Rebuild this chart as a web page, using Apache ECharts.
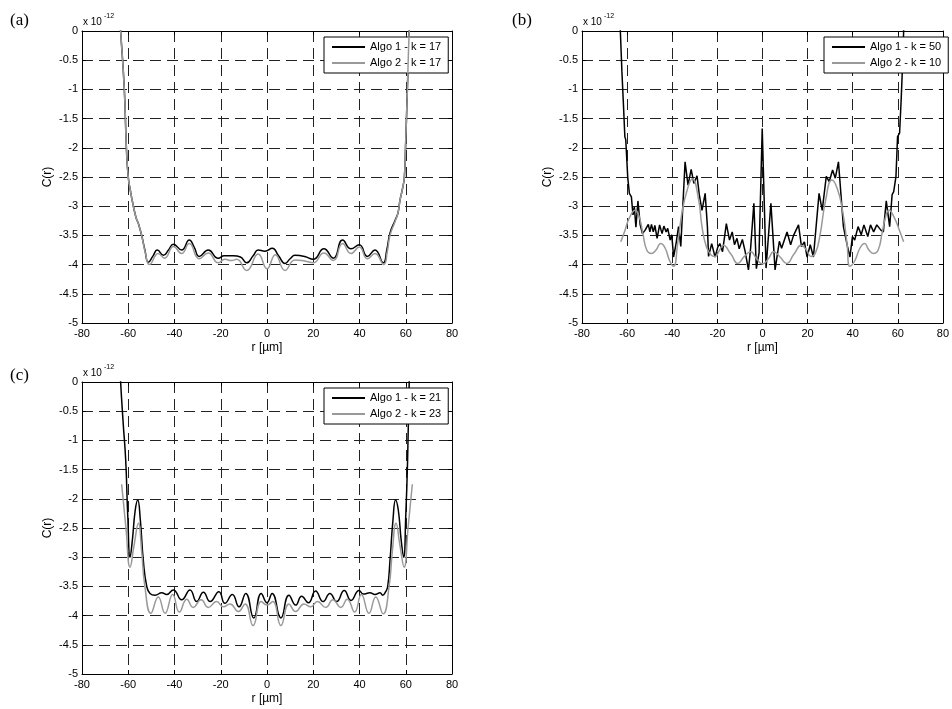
<!DOCTYPE html>
<html>
<head>
<meta charset="utf-8">
<script src="https://cdn.jsdelivr.net/npm/echarts@6/dist/echarts.min.js"></script>
<style>
html,body{margin:0;padding:0;background:#fff;}
#chart{width:952px;height:709px;}
</style>
</head>
<body>
<div id="chart"></div>
<script>
// ---------- DATA ----------
// axis ticks
const xTicks = {min: -80, max: 80, interval: 20};
const yTicks = {min: -5, max: 0, interval: 0.5};
const panelLabels = ['(a)', '(b)', '(c)'];
const seriesNames = [
  ['Algo 1 - k = 17', 'Algo 2 - k = 17'],
  ['Algo 1 - k = 50', 'Algo 2 - k = 10'],
  ['Algo 1 - k = 21', 'Algo 2 - k = 23']
];

// Panel (a) – Algo 1, k = 17 (r in µm, C in 1e-12)
const aAlgo1R = [-63.8,-63.3,-61.7,-60.8,-60.0,-59.0,-58.2,-56.6,-55.6,-54.2,-52.8,-51.3,-49.4,-47.4,-44.8,-42.6,-40.5,-36.9,-33.6,-31.5,-29.3,-25.4,-21.1,-18.5,-14.6,-11.5,-8.8,-6.0,-3.8,-0.9,2.3,5.0,7.8,10.0,12.1,16.3,20.0,24.6,28.7,32.7,36.3,39.9,43.4,46.7,50.3,51.8,53.2,55.4,56.6,57.5,58.6,59.4,59.9,60.7,61.5,62.0];
const aAlgo1C = [0.3,0,-1,-2,-2.5,-2.75,-2.92,-3.2,-3.3,-3.5,-3.75,-3.96,-3.86,-3.75,-3.84,-3.75,-3.65,-3.75,-3.58,-3.7,-3.86,-3.75,-3.89,-3.85,-3.85,-3.87,-3.97,-3.85,-3.75,-3.77,-3.72,-3.85,-3.98,-3.9,-3.84,-3.86,-3.91,-3.73,-3.89,-3.58,-3.73,-3.66,-3.86,-3.75,-3.97,-3.75,-3.46,-3.24,-3.12,-2.9,-2.7,-2.5,-2.0,-1.0,0,0.3];
// Panel (a) – Algo 2, k = 17
const aAlgo2R = [-63.8,-63.3,-61.7,-60.8,-60.0,-59.0,-58.2,-56.6,-55.6,-54.2,-52.6,-50.8,-47.0,-44.3,-40.4,-36.9,-33.6,-29.3,-25.4,-21.1,-18.2,-15.3,-13.1,-8.8,-3.8,0,3.6,7.8,12.1,16.4,20.0,24.6,28.7,32.7,36.3,39.9,43.4,46.7,50.5,52.0,53.2,55.4,56.6,57.5,58.6,59.4,59.9,60.7,61.5,62.0];
const aAlgo2C = [0.3,0,-1,-2,-2.5,-2.75,-2.92,-3.2,-3.3,-3.5,-3.8,-4.0,-3.81,-3.89,-3.69,-3.81,-3.64,-3.9,-3.8,-3.97,-3.91,-3.93,-3.91,-4.1,-3.82,-4.07,-3.83,-4.1,-3.92,-3.94,-3.97,-3.8,-3.93,-3.64,-3.81,-3.7,-3.9,-3.81,-4.0,-3.78,-3.5,-3.26,-3.12,-2.9,-2.7,-2.5,-2.0,-1.0,0,0.3];

// Panel (b) – Algo 1, k = 50
const bAlgo1R = [-63.3,-63.0,-62.3,-61.7,-61.0,-60.6,-60.2,-59.7,-59.0,-58.1,-57.4,-56.8,-56.1,-55.2,-54.2,-53.2,-52.0,-51.3,-50.6,-49.9,-49.2,-48.4,-47.7,-46.7,-45.6,-44.5,-43.7,-42.7,-42.0,-40.9,-40.2,-39.4,-38.3,-37.2,-36.2,-34.3,-33.0,-31.6,-30.4,-29.0,-28.0,-26.8,-25.4,-24.4,-23.9,-22.5,-21.0,-19.8,-18.9,-17.7,-16.0,-14.6,-13.4,-12.4,-11.3,-10.3,-8.9,-7.7,-6.2,-5.2,-3.8,-2.7,-1.5,-0.1,1.6,3.75,5.6,7.5,8.5,10.9,12.5,13.8,16.0,17.3,18.6,19.8,21.2,22.6,25.1,26.5,28.3,29.6,31.1,32.3,33.7,35.9,37.7,38.8,39.9,40.9,42.4,43.8,45.0,46.7,47.9,49.3,50.7,52.5,53.6,54.9,56.4,57.5,58.2,59.2,59.9,60.8,61.5,62.2,62.6,62.9];
const bAlgo1C = [0.3,0,-0.7,-1.2,-1.81,-1.86,-1.85,-2.52,-2.78,-2.84,-3.15,-3.01,-3.36,-2.91,-3.32,-3.47,-3.41,-3.44,-3.31,-3.44,-3.31,-3.44,-3.33,-3.55,-3.32,-3.47,-3.34,-3.44,-3.38,-3.58,-3.49,-3.87,-3.64,-3.35,-3.69,-2.24,-2.64,-2.37,-2.61,-2.48,-2.8,-3.07,-2.78,-3.35,-3.86,-3.64,-3.87,-3.7,-3.64,-3.78,-3.30,-3.58,-3.44,-3.66,-3.55,-3.73,-3.57,-3.77,-4.09,-3.7,-2.95,-4.07,-3.8,-1.67,-4.06,-2.95,-4.09,-3.6,-3.72,-3.44,-3.66,-3.5,-3.32,-3.69,-3.61,-3.87,-3.66,-3.87,-2.78,-3.07,-2.49,-2.58,-2.38,-2.52,-2.24,-3.35,-3.69,-3.87,-3.52,-3.58,-3.35,-3.49,-3.32,-3.52,-3.32,-3.44,-3.32,-3.41,-3.44,-2.91,-3.35,-2.8,-2.75,-2.49,-1.81,-1.75,-1.18,-0.5,0,0.3];
// Panel (b) – Algo 2, k = 10
const bAlgo2R = [-62.8,-61.0,-59.0,-56.4,-54.5,-53.0,-51.3,-49.2,-47.2,-45.1,-43.1,-41.2,-39.4,-37.6,-35.5,-33.2,-31.1,-28.3,-26.8,-24.9,-22.9,-21.0,-19.0,-17.4,-14.0,-10.9,-8.0,-5.2,-2.6,0,2.6,5.0,7.8,10.7,14.0,17.2,19.5,21.5,23.5,25.5,28.0,30.8,33.2,35.5,37.5,38.8,41.0,43.2,45.3,47.2,49.2,51.3,53.0,54.5,56.1,58.5,60.8,62.6];
const bAlgo2C = [-3.61,-3.42,-3.2,-3.07,-3.2,-3.47,-3.75,-3.81,-3.75,-3.64,-3.72,-3.93,-4.03,-3.64,-3.07,-2.7,-2.53,-2.89,-3.35,-3.69,-3.83,-3.86,-3.75,-3.67,-3.82,-3.98,-3.86,-3.78,-3.9,-3.99,-3.9,-3.78,-3.87,-3.98,-3.82,-3.67,-3.75,-3.86,-3.8,-3.5,-2.9,-2.55,-2.7,-3.07,-3.64,-4.03,-3.93,-3.72,-3.64,-3.75,-3.81,-3.75,-3.47,-3.2,-3.07,-3.2,-3.42,-3.61];

// Panel (c) – Algo 1, k = 21
const cAlgo1R = [-63.6,-63.3,-62.2,-61.1,-60.2,-59.2,-58.2,-57.0,-55.9,-54.8,-53.5,-52.0,-50.6,-48.4,-45.5,-43.4,-40.5,-36.9,-33.3,-30.4,-27.5,-24.6,-20.8,-18.2,-15.0,-12.1,-9.2,-5.7,-2.5,0,2.2,6.0,9.5,12.4,15.0,17.9,21.0,24.3,27.2,30.1,33.4,36.3,39.8,41.7,44.5,46.7,48.9,50.0,51.2,52.2,53.2,54.5,55.6,56.8,58.0,59.1,60.0,60.8,61.5,61.9];
const cAlgo1C = [0.3,0,-0.7,-1.34,-2.3,-3.0,-2.7,-2.2,-2.02,-2.35,-3.05,-3.5,-3.62,-3.65,-3.61,-3.64,-3.56,-3.73,-3.56,-3.76,-3.6,-3.76,-3.59,-3.79,-3.64,-3.85,-3.62,-4.04,-3.62,-3.78,-3.62,-4.04,-3.65,-3.82,-3.67,-3.78,-3.58,-3.76,-3.62,-3.76,-3.57,-3.74,-3.57,-3.63,-3.61,-3.64,-3.61,-3.65,-3.6,-3.5,-3.05,-2.35,-2.02,-2.2,-2.7,-3.0,-2.3,-1.34,0,0.3];
// Panel (c) – Algo 2, k = 23
const cAlgo2R = [-62.85,-61.0,-59.2,-57.5,-55.6,-54.2,-52.8,-50.2,-47.0,-44.1,-40.8,-37.9,-34.7,-31.9,-28.5,-25.4,-21.8,-18.9,-16.0,-12.4,-9.5,-6.0,-2.5,0,2.5,6.0,9.5,12.4,16.0,18.9,21.8,25.4,28.5,31.9,34.7,37.9,40.8,44.1,47.0,50.2,52.8,54.2,55.8,57.5,59.3,61.0,62.85];
const cAlgo2C = [-1.75,-2.5,-3.17,-2.8,-2.42,-2.9,-3.5,-3.96,-3.68,-3.96,-3.64,-3.94,-3.72,-3.86,-3.73,-3.86,-3.76,-3.85,-3.8,-3.93,-3.8,-4.17,-3.76,-3.82,-3.76,-4.17,-3.8,-3.93,-3.8,-3.85,-3.76,-3.86,-3.73,-3.86,-3.72,-3.94,-3.64,-3.96,-3.68,-3.97,-3.5,-2.9,-2.42,-2.8,-3.17,-2.5,-1.75];

// ---------- CHART ----------
const FONT = 'Liberation Sans, Arial, sans-serif';
const pairs = (xs, ys) => xs.map((x, i) => [x, ys[i]]);

const grids = [
  {left: 82, top: 31, width: 370, height: 292},
  {left: 582, top: 31, width: 370, height: 292},
  {left: 82, top: 382, width: 370, height: 292}
];

const dash = {color: '#222', width: 1, type: [11, 6]};
const xAxes = [], yAxes = [];
grids.forEach((g, gi) => {
  xAxes.push({
    gridIndex: gi, type: 'value', position: 'bottom',
    min: xTicks.min, max: xTicks.max, interval: xTicks.interval,
    axisLine: {show: true, onZero: false, lineStyle: {color: '#000', width: 1}},
    axisTick: {show: true, inside: true, length: 4, lineStyle: {color: '#000'}},
    axisLabel: {color: '#000', fontSize: 11, fontFamily: FONT, margin: 5},
    splitLine: {show: true, lineStyle: dash},
    name: 'r [µm]', nameLocation: 'middle', nameGap: 19,
    nameTextStyle: {color: '#000', fontSize: 12, fontFamily: FONT}
  });
  xAxes.push({
    gridIndex: gi, type: 'value', position: 'top',
    min: xTicks.min, max: xTicks.max, interval: xTicks.interval,
    axisLine: {show: true, onZero: false, lineStyle: {color: '#000', width: 1}},
    axisTick: {show: true, inside: true, length: 4, lineStyle: {color: '#000'}},
    axisLabel: {show: false}, splitLine: {show: false}
  });
  yAxes.push({
    gridIndex: gi, type: 'value', position: 'left',
    min: yTicks.min, max: yTicks.max, interval: yTicks.interval,
    axisLine: {show: true, onZero: false, lineStyle: {color: '#000', width: 1}},
    axisTick: {show: true, inside: true, length: 4, lineStyle: {color: '#000'}},
    axisLabel: {color: '#000', fontSize: 11, fontFamily: FONT, margin: 4},
    splitLine: {show: true, lineStyle: dash},
    name: 'C(r)', nameLocation: 'middle', nameGap: 28, nameRotate: 90,
    nameTextStyle: {color: '#000', fontSize: 12, fontFamily: FONT}
  });
  yAxes.push({
    gridIndex: gi, type: 'value', position: 'right',
    min: yTicks.min, max: yTicks.max, interval: yTicks.interval,
    axisLine: {show: true, onZero: false, lineStyle: {color: '#000', width: 1}},
    axisTick: {show: true, inside: true, length: 4, lineStyle: {color: '#000'}},
    axisLabel: {show: false}, splitLine: {show: false}
  });
});

const panelData = [
  [[aAlgo1R, aAlgo1C], [aAlgo2R, aAlgo2C]],
  [[bAlgo1R, bAlgo1C], [bAlgo2R, bAlgo2C]],
  [[cAlgo1R, cAlgo1C], [cAlgo2R, cAlgo2C]]
];
const smoothness = [[0.5, 0.5], [0, 0.5], [0.5, 0.5]];
const colors = ['#000000', '#999999'];

const series = [];
panelData.forEach((pd, gi) => {
  pd.forEach((xy, si) => {
    series.push({
      type: 'line', name: seriesNames[gi][si],
      xAxisIndex: gi * 2, yAxisIndex: gi * 2,
      data: pairs(xy[0], xy[1]),
      showSymbol: false, symbol: 'none', clip: true,
      smooth: smoothness[gi][si],
      color: colors[si],
      itemStyle: {color: colors[si]},
      lineStyle: {color: colors[si], width: 1.5},
      z: 3 + si
    });
  });
});

const legendPos = [{left: 324, top: 37}, {left: 824, top: 37}, {left: 324, top: 388}];
const legends = legendPos.map((p, gi) => ({
  left: p.left, top: p.top, orient: 'vertical',
  data: seriesNames[gi],
  icon: 'rect', itemWidth: 33, itemHeight: 2, itemGap: 2,
  backgroundColor: '#fff',
  borderColor: '#000', borderWidth: 1, borderRadius: 0,
  padding: [3, 7, 3, 8],
  textStyle: {color: '#000', fontSize: 11, fontFamily: FONT, lineHeight: 14},
  selectedMode: false
}));

const labelPos = [{x: 10, y: 12}, {x: 512, y: 12}, {x: 10, y: 367}];
const graphic = [];
labelPos.forEach((p, gi) => {
  graphic.push({type: 'text', x: p.x, y: p.y,
    style: {text: panelLabels[gi], fontSize: 17, fontFamily: 'Liberation Serif, Times New Roman, serif', fill: '#000'}});
  const g = grids[gi];
  graphic.push({type: 'text', x: g.left + 1, y: g.top - 14,
    style: {text: 'x 10', fontSize: 10, fontFamily: FONT, fill: '#000'}});
  graphic.push({type: 'text', x: g.left + 22, y: g.top - 18,
    style: {text: '-12', fontSize: 7, fontFamily: FONT, fill: '#000'}});
});

const chart = echarts.init(document.getElementById('chart'), null, {renderer: 'canvas'});
chart.setOption({
  animation: false,
  backgroundColor: '#fff',
  grid: grids.map(g => Object.assign({containLabel: false}, g)),
  xAxis: xAxes, yAxis: yAxes,
  legend: legends,
  series: series,
  graphic: graphic
});
</script>
</body>
</html>
